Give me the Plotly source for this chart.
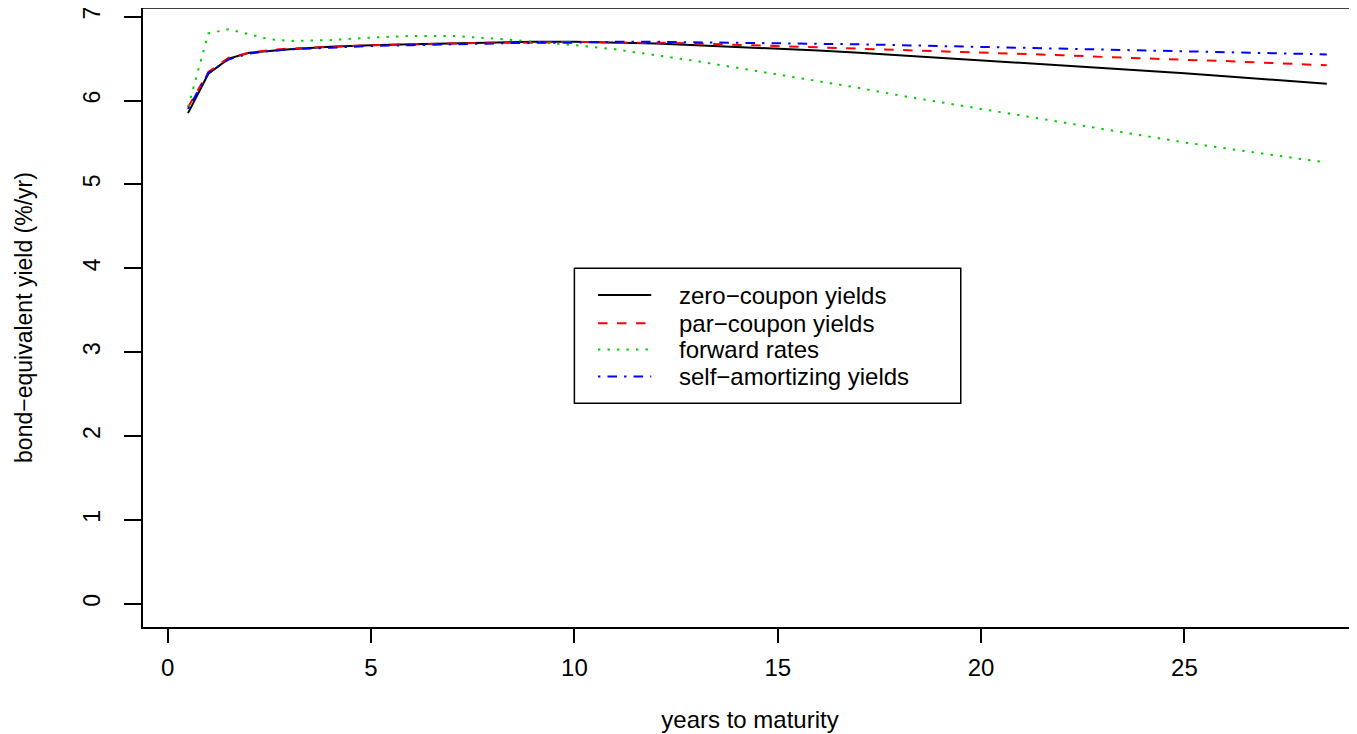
import plotly.graph_objects as go

# ---- data ----
maturity = [0.5, 1, 1.5, 2, 2.5, 3, 4, 5, 6, 7, 8, 9, 10, 11, 12, 13, 14, 15,
            16, 17, 18, 19, 20, 21, 22, 23, 24, 25, 26, 27, 28, 28.5]
zero_coupon = [5.85, 6.32, 6.50, 6.57, 6.59, 6.61, 6.64, 6.66, 6.67, 6.68, 6.69, 6.70,
               6.70, 6.69, 6.68, 6.66, 6.64, 6.62, 6.595, 6.57, 6.54, 6.51, 6.48, 6.45,
               6.42, 6.39, 6.36, 6.325, 6.29, 6.255, 6.22, 6.20]
par_coupon = [5.92, 6.34, 6.51, 6.57, 6.60, 6.62, 6.64, 6.66, 6.67, 6.68, 6.69, 6.69,
              6.70, 6.69, 6.69, 6.68, 6.665, 6.65, 6.635, 6.62, 6.60, 6.585, 6.57, 6.555,
              6.54, 6.52, 6.50, 6.485, 6.47, 6.45, 6.43, 6.42]
forward = [5.92, 6.80, 6.85, 6.79, 6.73, 6.71, 6.72, 6.75, 6.77, 6.77, 6.74, 6.70,
           6.66, 6.61, 6.54, 6.47, 6.39, 6.31, 6.23, 6.15, 6.06, 5.98, 5.90, 5.82,
           5.74, 5.66, 5.58, 5.50, 5.43, 5.36, 5.29, 5.26]
self_amort = [5.90, 6.33, 6.49, 6.56, 6.59, 6.61, 6.63, 6.65, 6.66, 6.67, 6.68, 6.69,
              6.69, 6.70, 6.70, 6.695, 6.69, 6.68, 6.675, 6.67, 6.66, 6.65, 6.64, 6.63,
              6.62, 6.61, 6.60, 6.59, 6.58, 6.57, 6.56, 6.55]

series_names = ["zero\u2212coupon yields", "par\u2212coupon yields",
                "forward rates", "self\u2212amortizing yields"]
x_ticks = [0, 5, 10, 15, 20, 25]
y_ticks = [0, 1, 2, 3, 4, 5, 6, 7]

# ---- styles ----
colors = ["#000000", "#FF0000", "#00CD00", "#0000FF"]
dashes = ["solid", "9.5px,9.5px", "2.4px,7.1px", "2.4px,7.1px,9.5px,7.1px"]
FONT = "Liberation Sans, Arial, Helvetica, sans-serif"
FS_V = 23   # vertical texts
FS_H = 24   # horizontal texts

fig = go.Figure()
for name, ys, c, d in zip(series_names, [zero_coupon, par_coupon, forward, self_amort],
                          colors, dashes):
    fig.add_trace(go.Scatter(x=maturity, y=ys, mode="lines", name=name,
                             line=dict(color=c, width=2, dash=d), showlegend=False))

# ---- legend drawn like R's legend(10, 4, ...) ----
LEG_X0, LEG_X1, LEG_Y0, LEG_Y1 = 10.0, 19.5, 2.39, 4.0
SAMPLE_X0, SAMPLE_X1, TEXT_X = 10.58, 11.89, 12.52
ROW_Y = [3.68, 3.345, 3.03, 2.71]
shapes = [dict(type="rect", xref="x", yref="y", x0=LEG_X0, x1=LEG_X1, y0=LEG_Y0, y1=LEG_Y1,
               line=dict(color="black", width=1.5), fillcolor="rgba(0,0,0,0)")]
annotations = []
for name, c, d, ry in zip(series_names, colors, dashes, ROW_Y):
    shapes.append(dict(type="line", xref="x", yref="y", x0=SAMPLE_X0, x1=SAMPLE_X1,
                       y0=ry, y1=ry, line=dict(color=c, width=2, dash=d)))
    annotations.append(dict(xref="x", yref="y", x=TEXT_X, y=ry, text=name, showarrow=False,
                            xanchor="left", yanchor="middle",
                            font=dict(family=FONT, size=FS_H, color="black")))
# top border of the plot box (right side runs off the picture)
shapes.append(dict(type="line", xref="paper", yref="paper", x0=0, x1=1, y0=1, y1=1,
                   line=dict(color="black", width=1.5)))

fig.update_layout(
    width=1349, height=726,
    margin=dict(l=135, r=0, t=0, b=107, autoexpand=False),
    paper_bgcolor="white", plot_bgcolor="white",
    font=dict(family=FONT, size=FS_H, color="black"),
    shapes=shapes, annotations=annotations,
    showlegend=False,
    xaxis=dict(range=[-0.607, 29.243], tickvals=x_ticks, ticktext=[str(v) for v in x_ticks],
               showgrid=False, zeroline=False, showline=True, linecolor="black", linewidth=1.5,
               ticks="outside", ticklen=14, tickwidth=1.5, tickcolor="black",
               ticklabelstandoff=4, tickfont=dict(size=FS_H), ticklabeloverflow="allow",
               title=dict(text="years to maturity", font=dict(size=FS_H), standoff=32)),
    yaxis=dict(range=[-0.277, 7.103], tickvals=y_ticks, ticktext=[str(v) for v in y_ticks],
               showgrid=False, zeroline=False, showline=True, linecolor="black", linewidth=1.5,
               ticks="outside", ticklen=17, tickwidth=1.5, tickcolor="black",
               tickangle=-90, ticklabelstandoff=15, tickfont=dict(size=FS_V),
               ticklabeloverflow="allow",
               title=dict(text="bond\u2212equivalent yield (%/yr)", font=dict(size=FS_V),
                          standoff=40)),
)

fig.write_html("out.html")
